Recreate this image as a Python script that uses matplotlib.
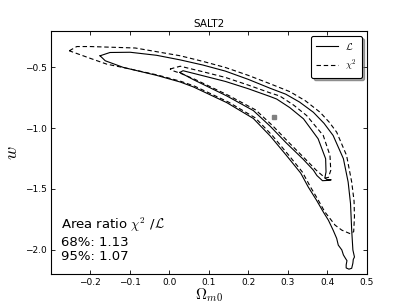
import numpy as np
import matplotlib
matplotlib.use("Agg")
import matplotlib.pyplot as plt

# contour outlines (Omega_m0, w)
L95_om = [-0.175, -0.150, -0.099, -0.032, 0.028, 0.085, 0.142, 0.200, 0.256, 0.295, 0.330, 0.365,
          0.392, 0.415, 0.441, 0.453, 0.459, 0.462, 0.465, 0.469, 0.466, 0.465, 0.462, 0.455,
          0.448, 0.448, 0.450, 0.446, 0.441, 0.437, 0.428, 0.424, 0.415, 0.403, 0.390, 0.373,
          0.352, 0.333, 0.297, 0.256, 0.213, 0.146, 0.061, 0.028, -0.032, -0.116, -0.162, -0.175]
L95_w = [-0.404, -0.377, -0.375, -0.400, -0.438, -0.480, -0.530, -0.598, -0.672, -0.720, -0.785, -0.869,
         -0.960, -1.060, -1.251, -1.443, -1.620, -1.839, -2.002, -2.060, -2.080, -2.111, -2.153, -2.160,
         -2.150, -2.125, -2.090, -2.070, -2.043, -2.002, -1.962, -1.907, -1.839, -1.757, -1.689, -1.593,
         -1.484, -1.370, -1.225, -1.065, -0.920, -0.790, -0.660, -0.620, -0.565, -0.500, -0.445, -0.404]

L68_om = [0.027, 0.035, 0.085, 0.142, 0.200, 0.256, 0.272, 0.305, 0.340, 0.377, 0.396, 0.397, 0.394,
          0.400, 0.410, 0.400, 0.388, 0.374, 0.365, 0.339, 0.296, 0.256, 0.213, 0.146, 0.061, 0.027]
L68_w = [-0.541, -0.527, -0.568, -0.615, -0.675, -0.740, -0.760, -0.830, -0.923, -1.087, -1.251, -1.360, -1.410,
         -1.423, -1.425, -1.430, -1.432, -1.390, -1.345, -1.255, -1.120, -0.985, -0.855, -0.735, -0.600, -0.541]

C95_om = [-0.253, -0.234, -0.200, -0.086, 0.028, 0.085, 0.142, 0.200, 0.256, 0.306, 0.345, 0.382, 0.405,
          0.424, 0.449, 0.462, 0.468, 0.469, 0.467, 0.458, 0.437, 0.420, 0.407, 0.394, 0.377, 0.357,
          0.337, 0.302, 0.261, 0.218, 0.150, 0.065, 0.030, -0.030, -0.110, -0.158, -0.200, -0.253]
C95_w = [-0.363, -0.328, -0.328, -0.340, -0.404, -0.450, -0.500, -0.565, -0.635, -0.700, -0.775, -0.869, -0.950,
         -1.033, -1.224, -1.443, -1.600, -1.730, -1.852, -1.868, -1.839, -1.798, -1.743, -1.689, -1.590, -1.480,
         -1.360, -1.220, -1.060, -0.915, -0.785, -0.655, -0.615, -0.562, -0.505, -0.473, -0.425, -0.363]

C68_om = [0.002, 0.028, 0.085, 0.142, 0.200, 0.256, 0.280, 0.315, 0.348, 0.390, 0.407, 0.409, 0.403,
          0.395, 0.372, 0.345, 0.302, 0.262, 0.219, 0.150, 0.065, 0.030, 0.012, 0.002]
C68_w = [-0.513, -0.490, -0.535, -0.582, -0.645, -0.710, -0.735, -0.810, -0.896, -1.060, -1.224, -1.347, -1.405,
         -1.410, -1.345, -1.255, -1.115, -0.980, -0.850, -0.730, -0.598, -0.550, -0.530, -0.513]

best_om, best_w = 0.265, -0.908

plt.rcParams["mathtext.fontset"] = "cm"
fig = plt.figure(figsize=(4.07, 3.05), dpi=100)
ax = fig.add_axes([0.1246, 0.1016, 0.7764, 0.7968])

lw = 0.8
dash = (0, (4, 2.5))
ax.plot(L95_om, L95_w, color="k", lw=lw, label=r"$\mathcal{L}$")
ax.plot(L68_om, L68_w, color="k", lw=lw)
ax.plot(C95_om, C95_w, color="k", lw=lw, ls=dash, label=r"$\chi^2$")
ax.plot(C68_om, C68_w, color="k", lw=lw, ls=dash)
ax.plot([best_om], [best_w], "s", color="0.5", ms=2.5, mec="0.5")

ax.set_xlim(-0.3, 0.5)
ax.set_ylim(-2.2, -0.2)
ax.set_xticks([-0.2, -0.1, 0.0, 0.1, 0.2, 0.3, 0.4, 0.5])
ax.set_yticks([-2.0, -1.5, -1.0, -0.5])
ax.tick_params(direction="in", top=True, right=True, labelsize=6.5, length=3, width=0.6, pad=3)
for s in ax.spines.values():
    s.set_linewidth(0.8)

ax.set_title("SALT2", fontsize=7.5, pad=3)
ax.set_xlabel(r"$\Omega_{m0}$", fontsize=11)
ax.xaxis.set_label_coords(0.5, -0.05)
ax.set_ylabel(r"$w$", fontsize=13)
ax.yaxis.set_label_coords(-0.095, 0.5)

ax.text(0.032, 0.045, "Area ratio $\\chi^2$ /$\\mathcal{L}$\n68%: 1.13\n95%: 1.07",
        transform=ax.transAxes, fontsize=9.5, ha="left", va="bottom", linespacing=1.15)

leg = ax.legend(loc="upper right", fontsize=7, shadow=True, fancybox=True,
                handlelength=2.2, borderpad=0.5, labelspacing=0.6)
leg.get_frame().set_edgecolor("k")
leg.get_frame().set_linewidth(0.8)

fig.savefig("out.png", dpi=100)
